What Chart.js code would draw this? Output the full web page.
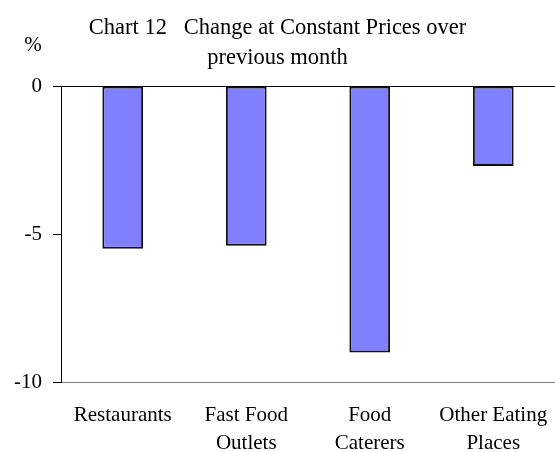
<!DOCTYPE html>
<html>
<head>
<meta charset="utf-8">
<script src="https://cdn.jsdelivr.net/npm/chart.js"></script>
<style>
  html, body { margin: 0; padding: 0; background: #fff; }
  #wrap { width: 555px; height: 452px; }
</style>
</head>
<body>
<div id="wrap"><canvas id="chart12"></canvas></div>
<script>
const categories = [
  'Restaurants',
  ['Fast Food', 'Outlets'],
  ['Food', 'Caterers'],
  ['Other Eating', 'Places']
];
const changePct = [-5.5, -5.4, -9.0, -2.7];
const yTicks = [0, -5, -10];
const titleLines = ['Chart 12   Change at Constant Prices over', 'previous month'];
const unitLabel = '%';

const serif = 'Liberation Serif';

// small "%" label at the top left of the y axis
const unitPlugin = {
  id: 'unitLabel',
  afterDraw(chart) {
    const ctx = chart.ctx;
    ctx.save();
    ctx.font = '21px "' + serif + '"';
    ctx.fillStyle = '#000';
    ctx.textAlign = 'center';
    ctx.textBaseline = 'middle';
    ctx.fillText(unitLabel, 33, 45);
    ctx.restore();
  }
};

new Chart(document.getElementById('chart12'), {
  type: 'bar',
  data: {
    labels: categories,
    datasets: [{
      data: changePct,
      backgroundColor: '#8080FF',
      borderColor: '#111',
      borderWidth: 2,
      borderSkipped: false,
      barPercentage: 0.33,
      categoryPercentage: 1
    }]
  },
  options: {
    responsive: true,
    maintainAspectRatio: false,
    animation: false,
    layout: { padding: 0 },
    plugins: {
      legend: { display: false },
      tooltip: { enabled: false },
      title: {
        display: true,
        text: titleLines,
        color: '#000',
        font: { family: serif, size: 22.5, weight: 'normal', lineHeight: 30 / 22.5 },
        padding: { top: 13, bottom: 13 }
      }
    },
    scales: {
      x: {
        grid: { display: false, drawTicks: false },
        border: { display: false },
        ticks: {
          color: '#000',
          font: { family: serif, size: 21, lineHeight: 28 / 21 },
          padding: 19,
          maxRotation: 0,
          autoSkip: false
        },
        afterFit(scale) {
          scale.height = 70;
          // let the plot run to the right edge like the original
          scale.paddingLeft = 0;
          scale.paddingRight = 0;
        }
      },
      y: {
        min: -10,
        max: 0,
        afterBuildTicks(scale) {
          scale.ticks = yTicks.map(v => ({ value: v }));
        },
        ticks: {
          color: '#000',
          font: { family: serif, size: 21 },
          padding: 11,
          callback: v => String(v)
        },
        grid: {
          tickLength: 8,
          tickColor: '#000',
          color: ctx => {
            if (!ctx.tick) return 'rgba(0,0,0,0)';
            if (ctx.tick.value === 0) return '#000';
            if (ctx.tick.value === -10) return '#808080';
            return 'rgba(0,0,0,0)';
          }
        },
        border: { display: true, color: '#000', width: 1 },
        afterFit(scale) { scale.width = 61; }
      }
    }
  },
  plugins: [unitPlugin]
});
</script>
</body>
</html>
